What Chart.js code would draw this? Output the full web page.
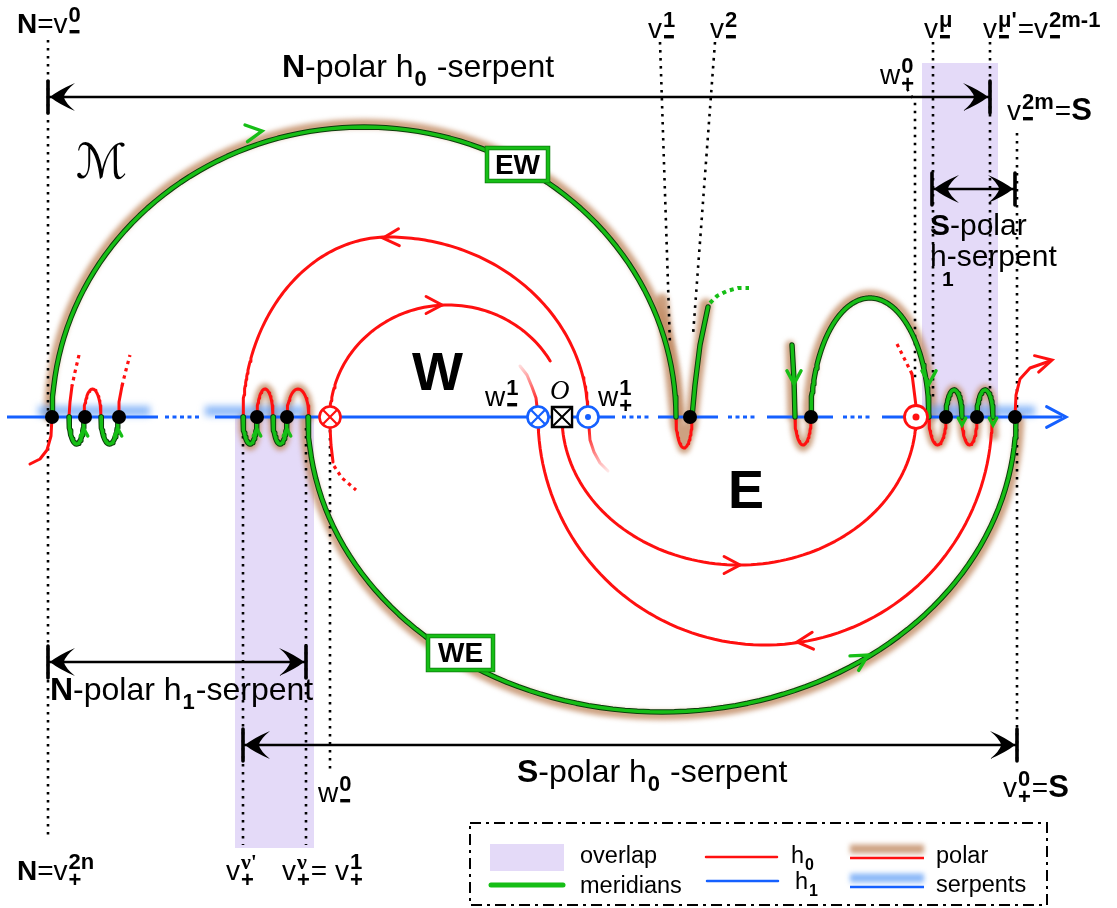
<!DOCTYPE html>
<html>
<head>
<meta charset="utf-8">
<script src="https://cdn.jsdelivr.net/npm/chart.js@4.4.1/dist/chart.umd.min.js"></script>
<style>html,body{margin:0;padding:0;background:#fff;overflow:hidden}canvas{display:block}</style>
</head>
<body>
<canvas id="c" width="1117" height="908"></canvas>
<script>
// ---- diagram geometry (diagram units = canvas pixels, y grows downward) ----
const AXIS_Y = 417;
const axisSolid = [[7,158],[215,615],[658,718],[767,833],[882,1062]];
const axisDotted = [[165,200],[622,650],[728,757],[843,873]];
const nodeX = [52,85,119,257,287,690,811,946,977,1015];
const redCrossX = [330];
const blueCrossX = [538];
const originX = [562];
const blueDotX = [588];
const redDotX = [916];
const overlapRects = [[922,63,998,417],[235,417,314,848]];
const serpentBands = [[38,150],[205,305],[925,1035]];
const guides = [
  [[48,40],[48,840]], [[660,42],[670,345]], [[715,42],[693,335]],
  [[903,82],[915,102],[915,378]], [[933,42],[933,400]], [[990,42],[990,395]],
  [[1017,133],[1017,762]], [[330,430],[330,772]], [[243,428],[243,845]], [[306,428],[306,845]]
];
const brackets = [
  {y:97, x0:48, x1:990},
  {y:189, x0:932, x1:1015},
  {y:662, x0:48, x1:306},
  {y:745, x0:243, x1:1017}
];
// meridians (green) and h0 curves (red) as elliptic arcs
const arcEW = {cx:364, cy:417, rx:312, ry:290, from:180, to:0};
const arcWE = {cx:662, cy:417, rx:354, ry:295, from:180, to:360};
const archE = {cx:870, cy:417, rx:59, ry:119, from:180, to:0};
const redArcs = [
  {cx:388, cy:417, rx:145, ry:180, from:180, to:90},
  {cx:388, cy:417, rx:200, ry:180, from:90, to:3},
  {cx:448, cy:417, rx:118, ry:112, from:180, to:30},
  {cx:739, cy:417, rx:177, ry:148, from:183, to:357},
  {cx:765, cy:417, rx:227, ry:228, from:182, to:360}
];
const greenLoops = [[69,84,1],[101,118,1],[243,257,1],[273,287,1],[946,962,-1],[977,993,-1]];
const redLoops = [[84,101,-1],[257,273,-1],[287,309,-1],[676,692,1],[795,811,1],[929,946,1],[962,977,1]];
const redPaths = [
  [[52,417],[51,436],[47,450],[40,459],[30,464]],
  [[72,386],[70,402],[69,417]],
  [[118,417],[119,402],[122,386]],
  [[330,427],[331,445],[333,462]],
  [[912,374],[914,390],[916,406]],
  [[1015,417],[1016,395],[1020,379],[1030,368],[1050,361]]
];
const redDotted = [
  [[79,355],[75,372],[72,386]], [[122,386],[126,370],[130,355]],
  [[334,466],[342,478],[356,490]], [[897,344],[904,358],[912,374]]
];
const greenPaths = [
  [[692,417],[695,385],[700,345],[708,307]],
  [[792,345],[794,380],[795,417]]
];
const greenDotted = [[[710,303],[717,296],[727,291],[738,288],[749,288]]];
const fadedRed = [
  {pts:[[520,366],[527,375],[532,387],[536,398],[537,407]], from:0.15, to:1},
  {pts:[[589,427],[590,440],[594,452],[600,463],[608,471]], from:1, to:0.1}
];
const arrows = [
  {x:262,y:131,dx:1,dy:-0.15,c:'g',L:18},
  {x:383,y:238,dx:-1,dy:0.05,c:'r',L:18},
  {x:442,y:305,dx:1,dy:0,c:'r',L:18},
  {x:740,y:565,dx:1,dy:0,c:'r',L:18},
  {x:797,y:642,dx:-1,dy:0.08,c:'r',L:18},
  {x:868,y:655,dx:0.86,dy:-0.51,c:'g',L:18},
  {x:794,y:384,dx:0,dy:1,c:'g',L:15},
  {x:929,y:384,dx:0,dy:1,c:'g',L:15},
  {x:84,y:429,dx:0,dy:-1,c:'g',L:8},
  {x:118,y:429,dx:0,dy:-1,c:'g',L:8},
  {x:257,y:429,dx:0,dy:-1,c:'g',L:8},
  {x:287,y:429,dx:0,dy:-1,c:'g',L:8},
  {x:962,y:425,dx:0,dy:1,c:'g',L:8},
  {x:993,y:425,dx:0,dy:1,c:'g',L:8},
  {x:1052,y:360,dx:1,dy:-0.25,c:'r',L:18},
  {x:1066,y:417,dx:1,dy:0,c:'b',L:22}
];

const RED = '#FF1010', GREEN = '#16BE16', GREEN_EDGE = '#0B3D0B', BLUE = '#1560FF';
const BROWN = 'rgba(192,138,98,0.8)', BLUEGLOW = 'rgba(100,160,245,0.75)', PURPLE = '#E4DAF8';
const FONT = '"Liberation Sans", Arial, sans-serif';

function ell(a, n = 90) {
  const pts = [];
  for (let i = 0; i <= n; i++) {
    const t = (a.from + (a.to - a.from) * i / n) * Math.PI / 180;
    pts.push([a.cx + a.rx * Math.cos(t), a.cy - a.ry * Math.sin(t)]);
  }
  return pts;
}
function grow(a, d) { return Object.assign({}, a, {rx: a.rx + d, ry: a.ry + d}); }
function loopPts(l, depth) {
  return ell({cx:(l[0]+l[1])/2, cy:AXIS_Y, rx:(l[1]-l[0])/2, ry:-l[2]*depth, from:180, to:0}, 30);
}

const datasets = [];
function add(pts, o) {
  datasets.push(Object.assign({
    data: pts.map(p => ({x:p[0], y:p[1]})), showLine:true, pointRadius:0, pointHoverRadius:0,
    fill:false, tension:0, borderCapStyle:'round', borderJoinStyle:'round'
  }, o));
}

// polar glow (brown)
const glowW = 9, glowB = 2.5;
add(ell(grow(arcEW, 3.5)), {borderColor:BROWN, borderWidth:glowW, blur:glowB, order:100});
add(ell(grow(arcWE, 3.5)), {borderColor:BROWN, borderWidth:glowW, blur:glowB, order:100});
add([[662,300],[671,370],[677,425],[684,447],[691,425],[696,380],[706,305]], {borderColor:BROWN, borderWidth:13, blur:glowB, order:100});
add(ell(grow(archE, 3.5)), {borderColor:BROWN, borderWidth:glowW, blur:glowB, order:100});
add([[790,345],[792,417]].concat(loopPts([795,811,1],30)), {borderColor:BROWN, borderWidth:glowW, blur:glowB, order:100});
[[243,257,1],[257,273,-1],[273,287,1],[287,309,-1]].forEach(l => add(loopPts(l, 29), {borderColor:BROWN, borderWidth:9, blur:glowB, order:100}));
[[929,946,1],[946,962,-1],[962,977,1],[977,993,-1]].forEach(l => add(loopPts(l, 28), {borderColor:BROWN, borderWidth:9, blur:glowB, order:100}));
add([[993,417],[994,436]], {borderColor:BROWN, borderWidth:9, blur:glowB, order:100});

// serpent glow (blue)
serpentBands.forEach(b => add([[b[0],411],[b[1],411]], {borderColor:BLUEGLOW, borderWidth:10, blur:3.5, order:95, borderCapStyle:'butt'}));

// dotted guide lines
guides.forEach(g => add(g, {borderColor:'#000', borderWidth:2.6, borderDash:[2.6,5.4], borderCapStyle:'butt', order:90}));

// h1 axis
axisSolid.forEach(s => add([[s[0],AXIS_Y],[s[1],AXIS_Y]], {borderColor:BLUE, borderWidth:3, borderCapStyle:'butt', order:80}));
axisDotted.forEach(s => add([[s[0],AXIS_Y],[s[1],AXIS_Y]], {borderColor:BLUE, borderWidth:3, borderDash:[4,3.5], borderCapStyle:'butt', order:80}));

// brackets
brackets.forEach(b => {
  add([[b.x0,b.y],[b.x1,b.y]], {borderColor:'#000', borderWidth:2.6, borderCapStyle:'butt', order:70});
  add([[b.x0,b.y-16],[b.x0,b.y+16]], {borderColor:'#000', borderWidth:3.6, borderCapStyle:'butt', order:70});
  add([[b.x1,b.y-16],[b.x1,b.y+16]], {borderColor:'#000', borderWidth:3.6, borderCapStyle:'butt', order:70});
});

// h0 curves
redArcs.forEach(a => add(ell(a), {borderColor:RED, borderWidth:3, order:60}));
redLoops.forEach(l => add(loopPts(l, l[0]===676 ? 31 : 28), {borderColor:RED, borderWidth:3, order:60}));
redPaths.forEach(p => add(p, {borderColor:RED, borderWidth:3, order:60}));
redDotted.forEach(p => add(p, {borderColor:RED, borderWidth:3.2, borderDash:[3.5,4], borderCapStyle:'butt', order:60}));
fadedRed.forEach(f => add(f.pts, {borderWidth:3, order:61, borderColor: ctx => {
  const ch = ctx.chart, sx = ch.scales && ch.scales.x, sy = ch.scales && ch.scales.y;
  if (!sx || !sy) return RED;
  const p0 = f.pts[0], p1 = f.pts[f.pts.length-1];
  const c = [sx.getPixelForValue(p0[0]), sy.getPixelForValue(p0[1]), sx.getPixelForValue(p1[0]), sy.getPixelForValue(p1[1])];
  if (!c.every(Number.isFinite)) return RED;
  const g = ch.ctx.createLinearGradient(c[0], c[1], c[2], c[3]);
  g.addColorStop(0, `rgba(255,16,16,${f.from})`); g.addColorStop(1, `rgba(255,16,16,${f.to})`);
  return g;
}}));

// meridians (green with dark edge)
const greenSets = [ell(arcEW), ell(arcWE), ell(archE)].concat(greenPaths, greenLoops.map(l => loopPts(l, 27)));
greenSets.forEach(p => add(p, {borderColor:GREEN_EDGE, borderWidth:5.4, order:52}));
greenSets.forEach(p => add(p, {borderColor:GREEN, borderWidth:3.4, order:50}));
greenDotted.forEach(p => add(p, {borderColor:GREEN, borderWidth:4, borderDash:[4,4], borderCapStyle:'butt', order:50}));

// arrowheads
const colorOf = {r:RED, g:GREEN, b:BLUE};
arrows.forEach(a => {
  const n = Math.hypot(a.dx, a.dy), ux = a.dx/n, uy = a.dy/n, ang = 28*Math.PI/180;
  const arm = s => [a.x - a.L*(ux*Math.cos(ang) - s*uy*Math.sin(ang)), a.y - a.L*(uy*Math.cos(ang) + s*ux*Math.sin(ang))];
  add([arm(1),[a.x,a.y],arm(-1)], {borderColor:colorOf[a.c], borderWidth: a.c==='g' ? 3.4 : 3, borderCapStyle:'round', borderJoinStyle:'miter', order:45});
});

// points on the axis
const onAxis = xs => xs.map(x => ({x, y:AXIS_Y}));
function marks(xs, o) { datasets.push(Object.assign({data:onAxis(xs), showLine:false, pointHoverRadius:0, order:10}, o)); }
marks(nodeX, {pointRadius:7, pointBackgroundColor:'#000', pointBorderWidth:0});
marks(redCrossX, {pointRadius:10.5, pointBackgroundColor:'#fff', pointBorderColor:RED, pointBorderWidth:2.6, order:9});
marks(redCrossX, {pointStyle:'crossRot', pointRadius:10.5, pointBorderColor:RED, pointBorderWidth:2.2, order:8});
marks(blueCrossX, {pointRadius:10.5, pointBackgroundColor:'#fff', pointBorderColor:BLUE, pointBorderWidth:2.6, order:9});
marks(blueCrossX, {pointStyle:'crossRot', pointRadius:10.5, pointBorderColor:BLUE, pointBorderWidth:2.2, order:8});
marks(originX, {pointStyle:'rect', pointRadius:14.2, pointBackgroundColor:'#fff', pointBorderColor:'#000', pointBorderWidth:2.4, order:9});
marks(originX, {pointStyle:'crossRot', pointRadius:14.2, pointBorderColor:'#000', pointBorderWidth:2, order:8});
marks(blueDotX, {pointRadius:10.5, pointBackgroundColor:'#fff', pointBorderColor:BLUE, pointBorderWidth:2.6, order:9});
marks(blueDotX, {pointRadius:3, pointBackgroundColor:BLUE, pointBorderWidth:0, order:8});
marks(redDotX, {pointRadius:11.5, pointBackgroundColor:'#fff', pointBorderColor:RED, pointBorderWidth:2.8, order:9});
marks(redDotX, {pointRadius:3.5, pointBackgroundColor:RED, pointBorderWidth:0, order:8});

// ---- text ----
const SZ = 28, SZB = 32;
const labels = [
  {x:17, y:33, p:[{t:'N',b:1},'=v',{sup:'0',sub:'-'}]},
  {x:282, y:77, s:SZB, p:[{t:'N',b:1},'-polar h',{sub:'0'},' -serpent']},
  {x:648, y:38, p:['v',{sup:'1',sub:'-'}]},
  {x:710, y:38, p:['v',{sup:'2',sub:'-'}]},
  {x:880, y:84, p:['w',{sup:'0',sub:'+'}]},
  {x:924, y:38, p:['v',{sup:'\u03BC',sub:'-'}]},
  {x:983, y:38, p:['v',{sup:'\u03BC\'',sub:'-'},'=v',{sup:'2m-1',sub:'-'}]},
  {x:1007, y:120, p:['v',{sup:'2m',sub:'-'},'=',{t:'S',b:1,s:31}]},
  {x:930, y:235, s:30, p:[{t:'S',b:1},'-polar']},
  {x:930, y:266, s:30, p:['h-serpent']},
  {x:942, y:286, p:[{t:'1',b:1,s:21}]},
  {x:485, y:406, p:['w',{sup:'1',sub:'-'}]},
  {x:598, y:406, p:['w',{sup:'1',sub:'+'}]},
  {x:50, y:700, s:SZB, p:[{t:'N',b:1},'-polar h',{sub:'1'},'-serpent']},
  {x:517, y:782, s:SZB, p:[{t:'S',b:1},'-polar h',{sub:'0'},' -serpent']},
  {x:318, y:802, p:['w',{sup:'0',sub:'-'}]},
  {x:1003, y:797, p:['v',{sup:'0',sub:'+'},'=',{t:'S',b:1,s:31}]},
  {x:17, y:880, p:[{t:'N',b:1},'=v',{sup:'2n',sub:'+'}]},
  {x:226, y:880, p:['v',{sup:'\u03BD\'',sub:'+',serif:1}]},
  {x:282, y:880, p:['v',{sup:'\u03BD',sub:'+',serif:1},'= v',{sup:'1',sub:'+'}]}
];
const bigLetters = [
  {x:412, y:390, t:'W', f:'bold 54px ' + FONT},
  {x:728, y:508, t:'E', f:'bold 54px ' + FONT},
  {x:76, y:178, t:'\u2133', f:'italic 48px "DejaVu Sans ExtraLight", "DejaVu Sans", sans-serif'},
  {x:550, y:399, t:'O', f:'italic 27px "Liberation Serif", serif'}
];
const boxes = [{x0:487, y0:148, x1:548, y1:181, t:'EW'}, {x0:428, y0:636, x1:493, y1:670, t:'WE'}];
const legendBox = [470, 823, 1047, 905];
const legendItems = [
  {kind:'rect', x0:490, x1:564, y:858, text:'overlap', tx:580, ty:863},
  {kind:'line', x0:491, x1:563, y:885, color:GREEN, w:5, text:'meridians', tx:580, ty:893},
  {kind:'line', x0:706, x1:777, y:857, color:RED, w:2.5, text:'h', sub:'0', tx:791, ty:863},
  {kind:'line', x0:707, x1:778, y:881, color:BLUE, w:2.5, text:'h', sub:'1', tx:795, ty:889},
  {kind:'glow', x0:850, x1:924, y:858, glow:BROWN, color:RED, text:'polar', tx:936, ty:863},
  {kind:'glow', x0:850, x1:924, y:887, glow:BLUEGLOW, color:BLUE, text:'serpents', tx:936, ty:892}
];

function rich(c, x, y, parts, size) {
  let cx = x;
  const ss = Math.round(size * 0.78);
  for (const p of parts) {
    if (typeof p === 'string' || p.t !== undefined) {
      const t = typeof p === 'string' ? p : p.t;
      c.font = `${p.b ? 'bold ' : ''}${p.s || size}px ${FONT}`;
      c.fillText(t, cx, y);
      cx += c.measureText(t).width;
    } else {
      let w = 0;
      if (p.sup) {
        c.font = `bold ${ss}px ${p.serif ? '"Liberation Serif", serif' : FONT}`;
        c.fillText(p.sup, cx + 1, y - size * 0.4);
        w = Math.max(w, c.measureText(p.sup).width + 1);
      }
      if (p.sub === '-') {
        c.fillRect(cx + 2, y - 3, ss * 0.45, 3.4);
        w = Math.max(w, ss * 0.45 + 2);
      } else if (p.sub) {
        c.font = `bold ${p.sup ? ss : Math.round(size * 0.68)}px ${FONT}`;
        const dy = p.sub === '+' ? size * 0.26 : size * 0.28;
        c.fillText(p.sub, cx + 1, y + dy);
        w = Math.max(w, c.measureText(p.sub).width + 1);
      }
      cx += w + 1;
    }
  }
}

const overlay = {
  id: 'overlay',
  beforeDatasetsDraw(chart) {
    const c = chart.ctx, X = v => chart.scales.x.getPixelForValue(v), Y = v => chart.scales.y.getPixelForValue(v);
    c.save();
    c.fillStyle = PURPLE;
    overlapRects.forEach(r => c.fillRect(X(r[0]), Y(r[1]), X(r[2]) - X(r[0]), Y(r[3]) - Y(r[1])));
    c.restore();
  },
  beforeDatasetDraw(chart, args) {
    const d = chart.data.datasets[args.index];
    if (d.blur) { chart.ctx.save(); chart.ctx.filter = `blur(${d.blur}px)`; }
  },
  afterDatasetDraw(chart, args) {
    const d = chart.data.datasets[args.index];
    if (d.blur) chart.ctx.restore();
  },
  afterDatasetsDraw(chart) {
    const c = chart.ctx, X = v => chart.scales.x.getPixelForValue(v), Y = v => chart.scales.y.getPixelForValue(v);
    c.save();
    // barbed bracket arrowheads
    c.fillStyle = '#000';
    const fish = (tip, y, dir) => {
      const L = 25, H = 14, at = (u, v) => [X(tip + dir * u * L), Y(y + v * H)];
      const q = (cu, cv, u, v) => { const a = at(cu, cv), b = at(u, v); c.quadraticCurveTo(a[0], a[1], b[0], b[1]); };
      c.beginPath();
      const t0 = at(0, 0); c.moveTo(t0[0], t0[1]);
      q(0.35, -0.5, 1, -1);
      q(0.62, -0.45, 0.55, 0);
      q(0.62, 0.45, 1, 1);
      q(0.35, 0.5, 0, 0);
      c.fill();
    };
    brackets.forEach(b => { fish(b.x0 + 2, b.y, 1); fish(b.x1 - 2, b.y, -1); });
    // labelled boxes on meridians
    boxes.forEach(b => {
      c.fillStyle = '#fff'; c.fillRect(X(b.x0), Y(b.y0), X(b.x1) - X(b.x0), Y(b.y1) - Y(b.y0));
      c.strokeStyle = '#0A7A0A'; c.lineWidth = 4.5; c.strokeRect(X(b.x0), Y(b.y0), X(b.x1) - X(b.x0), Y(b.y1) - Y(b.y0));
      c.strokeStyle = GREEN; c.lineWidth = 3; c.strokeRect(X(b.x0), Y(b.y0), X(b.x1) - X(b.x0), Y(b.y1) - Y(b.y0));
      c.fillStyle = '#000'; c.font = 'bold 28px ' + FONT; c.textAlign = 'center'; c.textBaseline = 'middle';
      c.fillText(b.t, X((b.x0 + b.x1) / 2), Y((b.y0 + b.y1) / 2 + 1.5));
      c.textAlign = 'left'; c.textBaseline = 'alphabetic';
    });
    c.restore();
  },
  afterDraw(chart) {
    const c = chart.ctx, X = v => chart.scales.x.getPixelForValue(v), Y = v => chart.scales.y.getPixelForValue(v);
    c.save();
    c.fillStyle = '#000';
    labels.forEach(l => rich(c, X(l.x), Y(l.y), l.p, l.s || SZ));
    bigLetters.forEach(b => { c.font = b.f; c.fillText(b.t, X(b.x), Y(b.y)); });
    // legend
    const [lx0, ly0, lx1, ly1] = legendBox;
    c.strokeStyle = '#000'; c.lineWidth = 2; c.setLineDash([11, 5, 3, 5]);
    c.strokeRect(X(lx0), Y(ly0), X(lx1) - X(lx0), Y(ly1) - Y(ly0));
    c.setLineDash([]);
    legendItems.forEach(it => {
      if (it.kind === 'rect') {
        c.fillStyle = PURPLE; c.fillRect(X(it.x0), Y(it.y - 14), X(it.x1) - X(it.x0), 27);
      } else if (it.kind === 'line') {
        c.strokeStyle = it.color; c.lineWidth = it.w; c.lineCap = 'round';
        c.beginPath(); c.moveTo(X(it.x0), Y(it.y)); c.lineTo(X(it.x1), Y(it.y)); c.stroke();
      } else {
        c.save(); c.filter = 'blur(2.5px)'; c.strokeStyle = it.glow; c.lineWidth = 9; c.lineCap = 'butt';
        c.beginPath(); c.moveTo(X(it.x0), Y(it.y - 9)); c.lineTo(X(it.x1), Y(it.y - 9)); c.stroke(); c.restore();
        c.strokeStyle = it.color; c.lineWidth = 2.5; c.lineCap = 'butt';
        c.beginPath(); c.moveTo(X(it.x0), Y(it.y)); c.lineTo(X(it.x1), Y(it.y)); c.stroke();
      }
      c.fillStyle = '#000';
      rich(c, X(it.tx), Y(it.ty), it.sub ? [it.text, {sub: it.sub}] : [it.text], 23.5);
    });
    c.restore();
  }
};

new Chart(document.getElementById('c'), {
  type: 'scatter',
  data: {datasets},
  options: {
    responsive: false, animation: false, devicePixelRatio: 1,
    layout: {padding: 0, autoPadding: false},
    plugins: {legend: {display: false}, tooltip: {enabled: false}},
    events: [],
    scales: {
      x: {type: 'linear', min: 0, max: 1117, display: false},
      y: {type: 'linear', min: 0, max: 908, reverse: true, display: false}
    }
  },
  plugins: [overlay]
});
</script>
</body>
</html>
